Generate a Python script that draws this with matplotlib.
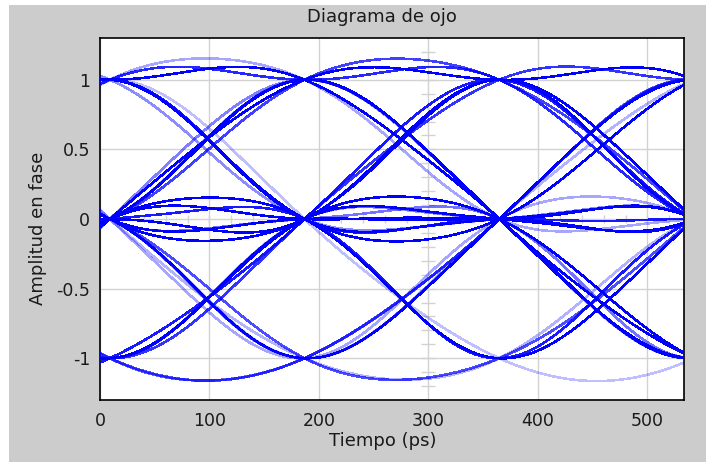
import numpy as np
import matplotlib
matplotlib.use("Agg")
import matplotlib.pyplot as plt
from matplotlib.patches import Rectangle

# transmitted bits (+1/-1); duobinary levels are the average of consecutive bits
bits = [1, 1, 1, -1, -1, 1, -1, 1, 1, -1,
        -1, -1, 1, 1, -1, 1, -1, -1, 1, 1,
        1, 1, -1, 1, -1, 1, 1, -1, -1, 1,
        -1, -1, -1, 1, 1, -1, 1, 1, 1, -1,
        1, -1, -1, 1, -1, -1, 1, 1, -1, -1,
        1, -1, 1, 1, 1, -1, -1, -1, 1, -1,
        1, -1, -1, 1, 1, -1, 1, -1, 1, 1,
        -1, -1, 1, -1, -1, -1, 1, 1, 1, 1,
        -1, 1, -1, -1, 1, 1, -1, -1, -1, 1,
        1, -1, 1, 1, -1, 1, -1, -1, 1, -1,
        1, 1, -1, -1, 1, 1]
# trace intensity (older traces drawn fainter)
trace_alpha = [1.0, 0.35, 1.0, 0.7, 1.0, 0.3, 0.85, 1.0, 0.45, 1.0,
               0.6, 1.0, 0.35, 0.9, 1.0, 0.5, 1.0, 0.75, 0.3, 1.0,
               0.55, 0.9, 1.0, 0.35, 0.7, 1.0, 0.45, 1.0, 0.25, 0.9,
               1.0, 0.55, 0.4, 1.0, 0.8]

symbol_period = 177.78   # ps
sample_offset = 9.0      # ps, first sampling instant in the window
rolloff = 0.65
syms_per_trace = 3

x_ticks = [0, 100, 200, 300, 400, 500]
y_ticks = [-1, -0.5, 0, 0.5, 1]
y_ticklabels = ["-1", "-0.5", "0", "0.5", "1"]


def raised_cosine(u, beta):
    u = np.asarray(u, dtype=float)
    den = 1 - (2 * beta * u) ** 2
    sing = np.abs(den) < 1e-8
    safe = np.where(sing, 1.0, den)
    val = np.sinc(u) * np.cos(np.pi * beta * u) / safe
    lim = np.pi / 4 * np.sinc(1 / (2 * beta))
    return np.where(sing, lim, val)


fig = plt.figure(figsize=(7.06, 4.62), dpi=100, facecolor="white")
fig.patches.append(Rectangle((9 / 706, 0), 1, 457 / 462, transform=fig.transFigure,
                             facecolor="#cccccc", edgecolor="none", zorder=-10))
ax = fig.add_axes([100 / 706, 62 / 462, 584 / 706, 362 / 462])
ax.set_facecolor("white")

b = np.array(bits, dtype=float)
sym = (b[1:] + b[:-1]) / 2
n_sym = len(sym)
n_traces = n_sym // syms_per_trace

t = np.linspace(0, syms_per_trace * symbol_period, 600)
for j in range(n_traces):
    y = np.zeros_like(t)
    for m in range(-6, syms_per_trace + 7):
        a = sym[(j * syms_per_trace + m) % n_sym]
        y += a * raised_cosine((t - sample_offset - m * symbol_period) / symbol_period, rolloff)
    ax.plot(t, y, color="#0000ff", lw=1.1, alpha=trace_alpha[j % len(trace_alpha)],
            antialiased=False, zorder=3)

grid_c = "#d2d2d2"
ax.set_xlim(0, syms_per_trace * symbol_period)
ax.set_ylim(-1.3, 1.3)
ax.set_xticks(x_ticks)
ax.set_yticks(y_ticks)
ax.set_yticklabels(y_ticklabels)
ax.grid(True, color=grid_c, lw=1.0, zorder=1)
ax.set_axisbelow(True)

# small minor marks along the center lines
minor_y = np.round(np.arange(-1.2, 1.21, 0.1), 2)
ax.plot(np.full_like(minor_y, 300), minor_y, ls="none", marker="_", ms=10,
        mew=1.0, color=grid_c, zorder=1.5)
minor_x = np.arange(20, 533, 20)
ax.plot(minor_x, np.zeros_like(minor_x), ls="none", marker="|", ms=6,
        mew=1.0, color=grid_c, zorder=1.5)

ax.tick_params(length=0, labelsize=12.5, colors="#1a1a1a")
ax.tick_params(axis="y", pad=7)
ax.tick_params(axis="x", pad=9)
for s in ax.spines.values():
    s.set_color("black")
    s.set_linewidth(1.2)

fig.text(381.5 / 706, 1 - 17 / 462, "Diagrama de ojo", ha="center", va="center",
         fontsize=13, color="#1a1a1a")
fig.text(383 / 706, 1 - 441 / 462, "Tiempo (ps)", ha="center", va="center",
         fontsize=13, color="#1a1a1a")
fig.text(38 / 706, 1 - 228 / 462, "Amplitud en fase", ha="center", va="center",
         rotation=90, fontsize=13, color="#1a1a1a")

fig.savefig("out.png", dpi=100, facecolor=fig.get_facecolor())
